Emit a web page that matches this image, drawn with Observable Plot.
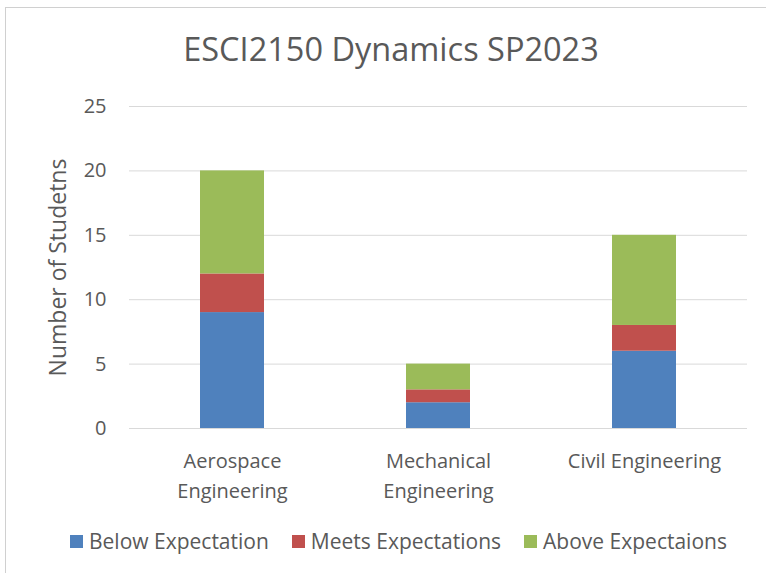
<!DOCTYPE html>
<html>
<head>
<meta charset="utf-8">
<script src="https://cdn.jsdelivr.net/npm/d3@7"></script>
<script src="https://cdn.jsdelivr.net/npm/@observablehq/plot@0.6"></script>
<style>
  body { margin: 0; background: #fff; font-family: "Open Sans", sans-serif; }
  #wrap { position: relative; width: 766px; height: 573px; overflow: hidden; background: #fff; }
  #frame { position: absolute; left: 5px; top: 7px; width: 900px; height: 700px; border-left: 1px solid #d0d0d0; border-top: 1px solid #d0d0d0; }
  #title { position: absolute; top: 33px; left: 0; width: 782px; text-align: center; font-size: 32.5px; line-height: 1; color: #595959; white-space: nowrap; }
  #chart { position: absolute; left: 0; top: 0; }
  #legend { position: absolute; top: 531px; left: 70px; display: flex; align-items: center; gap: 23px; font-size: 21px; line-height: 1; color: #595959; white-space: nowrap; }
  .item { display: flex; align-items: center; }
  .sw { width: 13px; height: 13px; margin-right: 6px; display: inline-block; }
</style>
</head>
<body>
<div id="wrap">
  <div id="frame"></div>
  <div id="title"></div>
  <div id="chart"></div>
  <div id="legend"></div>
</div>
<script>
const titleText = "ESCI2150 Dynamics SP2023";
const yLabel = "Number of Studetns";
const categories = ["Aerospace Engineering", "Mechanical Engineering", "Civil Engineering"];
const series = ["Below Expectation", "Meets Expectations", "Above Expectaions"];
const below = [9, 2, 6];
const meets = [3, 1, 2];
const above = [8, 2, 7];
const colors = ["#4F81BD", "#C0504D", "#9BBB59"];
const yTicks = [0, 5, 10, 15, 20, 25];

const valuesBySeries = [below, meets, above];
const data = categories.flatMap((c, i) =>
  series.map((s, j) => ({category: c, series: s, value: valuesBySeries[j][i]}))
);

document.getElementById("title").textContent = titleText;

const chart = Plot.plot({
  width: 766,
  height: 520,
  marginTop: 106,
  marginBottom: 92,
  marginLeft: 129,
  marginRight: 19,
  style: {fontFamily: "Open Sans, sans-serif", fontSize: "20px", color: "#595959", background: "transparent", overflow: "visible"},
  x: {domain: categories, paddingInner: 0.69, paddingOuter: 0.345, label: null},
  y: {domain: [0, 25], label: null},
  color: {domain: series, range: colors},
  marks: [
    Plot.gridY(yTicks, {stroke: "#d9d9d9", strokeOpacity: 1, strokeWidth: 1}),
    Plot.axisY(yTicks, {tickSize: 0, tickPadding: 23, label: null, fill: "#595959"}),
    Plot.axisX({
      tickSize: 0, tickPadding: 18, label: null, fill: "#595959", lineHeight: 1.5,
      tickFormat: d => d.length > 17 ? d.replace(" ", "\n") : d
    }),
    Plot.barY(data, Plot.stackY({x: "category", y: "value", fill: "series", order: series})),
    Plot.text([yLabel], {text: d => d, frameAnchor: "left", textAnchor: "middle", dx: -71, rotate: -90, fill: "#595959", fontSize: 23})
  ]
});
document.getElementById("chart").appendChild(chart);

const legend = document.getElementById("legend");
series.forEach((s, i) => {
  const item = document.createElement("div");
  item.className = "item";
  const sw = document.createElement("span");
  sw.className = "sw";
  sw.style.background = colors[i];
  const label = document.createElement("span");
  label.textContent = s;
  item.appendChild(sw);
  item.appendChild(label);
  legend.appendChild(item);
});
</script>
</body>
</html>
